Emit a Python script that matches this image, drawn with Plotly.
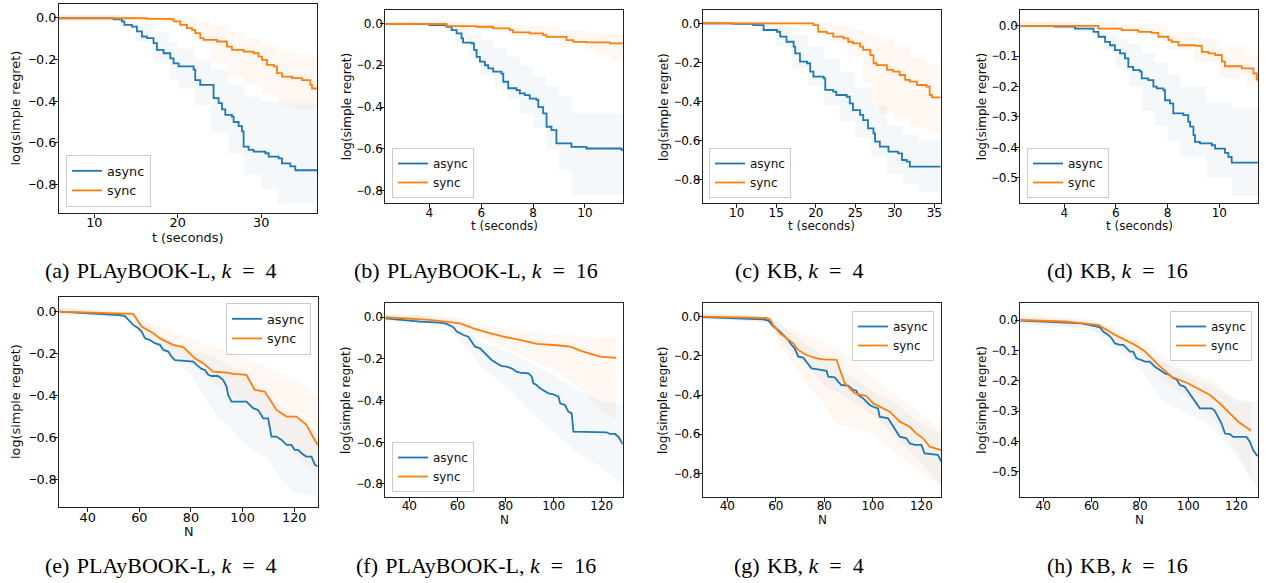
import plotly.graph_objects as go

W, H = 1266, 583

# ---------------- data ----------------
# (a) PLAyBOOK-L, k=4, time
a_async_t = [5.76, 12.3, 13.3, 13.6, 14.5, 15.1, 15.7, 16.3, 17.1, 17.5, 18.3, 19.1, 19.5, 20.1, 20.9, 21.9, 22.1, 22.7, 24.1, 24.3, 24.9, 25.3, 25.7, 26.5, 26.7, 27.3, 27.7, 27.9, 28.5, 29.1, 30.5, 30.9, 32.1, 32.5, 33.5, 34.1, 36.7]
a_async_v = [-0.005, -0.01, -0.02, -0.037, -0.045, -0.068, -0.092, -0.10, -0.124, -0.156, -0.172, -0.196, -0.22, -0.235, -0.235, -0.25, -0.30, -0.323, -0.323, -0.386, -0.41, -0.44, -0.466, -0.474, -0.50, -0.52, -0.545, -0.617, -0.633, -0.641, -0.649, -0.665, -0.673, -0.697, -0.712, -0.73, -0.73]
a_sync_t = [5.76, 16.3, 19.3, 19.5, 20.3, 21.1, 21.7, 22.1, 22.7, 23.1, 24.7, 25.9, 26.5, 27.9, 29.1, 29.7, 30.1, 30.7, 31.5, 31.9, 32.5, 33.7, 34.9, 35.9, 36.1, 36.7]
a_sync_v = [-0.005, -0.008, -0.01, -0.02, -0.037, -0.052, -0.06, -0.076, -0.10, -0.108, -0.116, -0.14, -0.156, -0.164, -0.172, -0.188, -0.204, -0.227, -0.235, -0.267, -0.283, -0.291, -0.30, -0.323, -0.34, -0.34]
a_async_band_t = [5.76, 13, 15, 17, 19, 20, 22, 24, 26, 28, 30, 32, 36.7]
a_async_hi = [0.01, 0.0, -0.03, -0.07, -0.12, -0.15, -0.2, -0.25, -0.32, -0.38, -0.40, -0.41, -0.42]
a_async_lo = [-0.01, -0.03, -0.12, -0.22, -0.30, -0.34, -0.42, -0.55, -0.65, -0.75, -0.82, -0.89, -0.89]
a_sync_band_t = [5.76, 16, 20, 22, 24, 26, 28, 30, 32, 34, 36.7]
a_sync_hi = [0.01, 0.005, 0.0, -0.02, -0.04, -0.07, -0.10, -0.13, -0.16, -0.18, -0.21]
a_sync_lo = [-0.01, -0.02, -0.05, -0.12, -0.22, -0.28, -0.32, -0.37, -0.42, -0.44, -0.46]

# (b) PLAyBOOK-L, k=16, time
b_async_t = [2.3, 4.0, 4.66, 4.86, 5.05, 5.24, 5.3, 5.63, 5.72, 5.82, 5.95, 6.14, 6.27, 6.46, 6.78, 6.85, 7.04, 7.36, 7.49, 7.68, 7.87, 8.13, 8.2, 8.39, 8.52, 8.71, 8.9, 9.35, 9.48, 10.06, 11.09, 11.41, 11.48]
b_async_v = [-0.003, -0.008, -0.016, -0.032, -0.048, -0.072, -0.092, -0.096, -0.127, -0.16, -0.183, -0.20, -0.215, -0.231, -0.24, -0.279, -0.31, -0.319, -0.335, -0.343, -0.36, -0.366, -0.40, -0.43, -0.494, -0.51, -0.574, -0.574, -0.59, -0.598, -0.598, -0.605, -0.61]
b_sync_t = [2.3, 4.66, 5.82, 6.46, 7.1, 7.23, 7.87, 8.39, 8.52, 9.29, 9.55, 10.06, 10.57, 10.96, 11.48]
b_sync_v = [-0.003, -0.013, -0.016, -0.024, -0.032, -0.043, -0.048, -0.056, -0.064, -0.08, -0.088, -0.091, -0.091, -0.096, -0.099]
b_async_band_t = [2.3, 4.5, 5, 5.5, 6, 6.5, 7, 7.5, 8, 8.5, 9, 9.5, 11.48]
b_async_hi = [0.01, 0.0, -0.02, -0.05, -0.08, -0.12, -0.16, -0.2, -0.25, -0.3, -0.35, -0.43, -0.44]
b_async_lo = [-0.01, -0.03, -0.09, -0.17, -0.25, -0.30, -0.36, -0.43, -0.50, -0.60, -0.70, -0.82, -0.82]
b_sync_band_t = [2.3, 5, 7, 9, 10, 10.5, 11, 11.48]
b_sync_hi = [0.01, 0.005, -0.01, -0.03, -0.04, -0.05, -0.05, -0.06]
b_sync_lo = [-0.01, -0.03, -0.06, -0.10, -0.13, -0.15, -0.18, -0.20]

# (c) KB, k=4, time
c_async_t = [5.7, 9.6, 12.1, 13.4, 15.1, 15.5, 16.3, 17.2, 17.4, 18.0, 18.9, 19.3, 19.7, 21.0, 21.2, 22.2, 22.6, 23.9, 24.3, 24.7, 25.6, 26.0, 26.6, 27.3, 27.5, 28.1, 29.0, 29.2, 30.4, 30.9, 31.5, 31.9, 33.2, 35.8]
c_async_v = [0.0, -0.003, -0.009, -0.034, -0.043, -0.068, -0.094, -0.119, -0.153, -0.196, -0.204, -0.247, -0.272, -0.281, -0.34, -0.349, -0.366, -0.375, -0.409, -0.443, -0.468, -0.494, -0.536, -0.562, -0.604, -0.63, -0.63, -0.655, -0.664, -0.698, -0.706, -0.732, -0.732, -0.732]
c_sync_t = [5.7, 19.7, 20.3, 21.4, 22.2, 23.5, 24.1, 24.7, 25.6, 26.0, 26.9, 27.3, 27.7, 29.0, 29.8, 30.6, 31.3, 31.9, 32.8, 34.0, 34.4, 34.7, 35.8]
c_sync_v = [0.0, -0.009, -0.043, -0.051, -0.068, -0.077, -0.094, -0.102, -0.119, -0.136, -0.162, -0.204, -0.213, -0.238, -0.247, -0.264, -0.289, -0.298, -0.315, -0.323, -0.366, -0.378, -0.378]
c_async_band_t = [5.7, 13, 15, 17, 19, 21, 23, 25, 27, 29, 31, 33, 35.8]
c_async_hi = [0.01, 0.0, -0.02, -0.06, -0.12, -0.18, -0.25, -0.33, -0.42, -0.52, -0.57, -0.6, -0.6]
c_async_lo = [-0.01, -0.03, -0.12, -0.23, -0.32, -0.42, -0.50, -0.58, -0.68, -0.77, -0.82, -0.86, -0.87]
c_sync_band_t = [5.7, 20, 22, 24, 26, 27, 28, 30, 32, 34, 35.8]
c_sync_hi = [0.01, 0.005, -0.01, -0.03, -0.05, -0.06, -0.08, -0.12, -0.18, -0.21, -0.22]
c_sync_lo = [-0.01, -0.03, -0.10, -0.17, -0.30, -0.42, -0.46, -0.5, -0.53, -0.56, -0.58]

# (d) KB, k=16, time
d_async_t = [2.3, 3.64, 4.42, 5.13, 5.32, 5.58, 5.77, 5.96, 6.16, 6.35, 6.48, 6.67, 6.93, 7.0, 7.25, 7.45, 7.58, 7.84, 7.9, 8.09, 8.22, 8.61, 8.8, 8.87, 9.0, 9.06, 9.25, 9.71, 9.84, 10.22, 10.35, 10.48, 11.51]
d_async_v = [0.0, -0.003, -0.009, -0.02, -0.036, -0.053, -0.064, -0.08, -0.091, -0.107, -0.135, -0.146, -0.151, -0.173, -0.179, -0.20, -0.206, -0.212, -0.245, -0.255, -0.288, -0.294, -0.316, -0.332, -0.36, -0.382, -0.387, -0.393, -0.404, -0.418, -0.431, -0.45, -0.45]
d_sync_t = [2.3, 5.32, 6.22, 6.87, 7.38, 7.64, 8.03, 8.16, 8.42, 9.06, 9.32, 9.58, 9.84, 10.1, 10.22, 10.87, 11.19, 11.32, 11.45, 11.51]
d_sync_v = [0.0, -0.009, -0.014, -0.02, -0.023, -0.036, -0.047, -0.053, -0.064, -0.066, -0.086, -0.091, -0.096, -0.118, -0.133, -0.14, -0.14, -0.157, -0.177, -0.179]
d_async_band_t = [2.3, 4.5, 5.5, 6, 6.5, 7, 7.5, 8, 8.5, 9.5, 10.5, 11.51]
d_async_hi = [0.01, 0.0, -0.02, -0.04, -0.06, -0.09, -0.12, -0.16, -0.2, -0.25, -0.27, -0.27]
d_async_lo = [-0.01, -0.02, -0.08, -0.14, -0.2, -0.28, -0.33, -0.38, -0.43, -0.5, -0.56, -0.56]
d_sync_band_t = [2.3, 6, 8, 9, 10, 11, 11.51]
d_sync_hi = [0.015, 0.005, -0.02, -0.04, -0.07, -0.10, -0.12]
d_sync_lo = [-0.01, -0.02, -0.08, -0.12, -0.17, -0.20, -0.23]

# (e) PLAyBOOK-L, k=4, N
e_async_n = [29, 52.5, 54.4, 55.7, 57.6, 59.6, 60.9, 62.2, 64.1, 66, 68, 69.3, 71.2, 72.5, 73.8, 76.4, 80.9, 82.2, 84.1, 85.4, 86.7, 88, 90.5, 92.5, 93.8, 94.4, 95.7, 97, 101.5, 102.8, 104.1, 106, 108, 109.9, 111.2, 113.1, 115.1, 117, 118.9, 120.2, 121.5, 122.8, 124.7, 126.7, 128, 129.1]
e_async_v = [0.0, -0.016, -0.021, -0.04, -0.063, -0.079, -0.095, -0.127, -0.135, -0.15, -0.158, -0.182, -0.19, -0.214, -0.23, -0.233, -0.238, -0.253, -0.272, -0.277, -0.30, -0.306, -0.306, -0.325, -0.356, -0.396, -0.428, -0.428, -0.428, -0.443, -0.459, -0.467, -0.507, -0.507, -0.594, -0.594, -0.61, -0.633, -0.633, -0.657, -0.657, -0.673, -0.689, -0.689, -0.728, -0.735]
e_sync_n = [29, 56.4, 57.6, 60.9, 65.4, 68, 73.1, 77, 81.5, 84.7, 88.6, 93.8, 96.4, 101.5, 104.7, 108.6, 113.1, 117, 120.9, 124.7, 128, 129.1]
e_sync_v = [0.0, -0.011, -0.011, -0.071, -0.103, -0.127, -0.158, -0.169, -0.222, -0.245, -0.285, -0.29, -0.296, -0.301, -0.372, -0.38, -0.467, -0.499, -0.499, -0.538, -0.61, -0.635]
e_async_band_n = [29, 55, 60, 70, 75, 80, 85, 90, 95, 100, 110, 115, 120, 129.1]
e_async_hi = [0.02, 0.0, -0.05, -0.13, -0.16, -0.19, -0.2, -0.22, -0.26, -0.3, -0.4, -0.45, -0.5, -0.58]
e_async_lo = [-0.01, -0.03, -0.1, -0.19, -0.25, -0.30, -0.40, -0.50, -0.55, -0.62, -0.70, -0.80, -0.86, -0.88]
e_sync_band_n = [29, 57, 60, 70, 80, 90, 100, 110, 120, 129.1]
e_sync_hi = [0.02, 0.0, -0.03, -0.08, -0.13, -0.17, -0.22, -0.27, -0.32, -0.40]
e_sync_lo = [-0.01, -0.03, -0.1, -0.18, -0.25, -0.35, -0.42, -0.55, -0.68, -0.78]

# (f) PLAyBOOK-L, k=16, N
f_async_n = [30, 36.1, 44.4, 52.8, 55.5, 58.3, 59.7, 62.5, 64.5, 65.9, 67.3, 69.4, 70.8, 72.2, 74.2, 76.3, 78.4, 80.5, 82.5, 84.6, 86, 89.5, 90.9, 91.6, 92.9, 94.3, 95.7, 97.8, 99.9, 102, 102.7, 104.7, 106.1, 107.5, 108.2, 111, 113.7, 122, 123.4, 125.5, 126.9, 127.6, 128.7]
f_async_v = [-0.005, -0.013, -0.021, -0.026, -0.032, -0.048, -0.069, -0.085, -0.093, -0.117, -0.141, -0.149, -0.165, -0.186, -0.205, -0.221, -0.234, -0.237, -0.245, -0.261, -0.266, -0.269, -0.285, -0.317, -0.325, -0.341, -0.349, -0.365, -0.37, -0.381, -0.413, -0.421, -0.453, -0.461, -0.549, -0.549, -0.552, -0.552, -0.56, -0.56, -0.573, -0.589, -0.608]
f_sync_n = [30, 48.6, 61, 66.6, 72.2, 79.1, 86, 93, 99.9, 106.8, 112.3, 119.3, 126]
f_sync_v = [0.0, -0.013, -0.029, -0.053, -0.072, -0.093, -0.109, -0.128, -0.133, -0.141, -0.165, -0.189, -0.195]
f_async_band_n = [30, 55, 60, 65, 70, 80, 90, 100, 110, 120, 128.7]
f_async_hi = [0.015, 0.0, -0.03, -0.07, -0.12, -0.16, -0.22, -0.28, -0.35, -0.40, -0.42]
f_async_lo = [-0.02, -0.04, -0.10, -0.16, -0.24, -0.33, -0.45, -0.55, -0.65, -0.72, -0.80]
f_sync_band_n = [30, 60, 70, 80, 90, 100, 110, 120, 126]
f_sync_hi = [0.02, 0.0, -0.03, -0.06, -0.07, -0.08, -0.09, -0.10, -0.10]
f_sync_lo = [-0.01, -0.04, -0.10, -0.15, -0.20, -0.25, -0.33, -0.45, -0.49]

# (g) KB, k=4, N
g_async_n = [29.85, 45.2, 54.8, 56.9, 58.9, 61.7, 63.7, 65.1, 66.5, 67.8, 69.2, 71.3, 72.6, 74.7, 76.1, 78.1, 80.9, 81.6, 84.3, 85.7, 87, 89.8, 91.9, 93.2, 93.9, 96, 97.3, 98.7, 100.1, 102.1, 102.8, 106.3, 107.6, 109, 111.1, 113.8, 115.2, 117.2, 120, 121.3, 124.8, 126.8, 128.2]
g_async_v = [-0.003, -0.009, -0.014, -0.02, -0.048, -0.077, -0.102, -0.119, -0.145, -0.162, -0.204, -0.209, -0.23, -0.264, -0.267, -0.272, -0.277, -0.306, -0.31, -0.332, -0.349, -0.352, -0.374, -0.378, -0.40, -0.417, -0.434, -0.451, -0.46, -0.468, -0.511, -0.519, -0.545, -0.57, -0.613, -0.621, -0.647, -0.655, -0.655, -0.698, -0.701, -0.706, -0.74]
g_sync_n = [29.85, 56.2, 57.6, 58.9, 61.7, 64.4, 67.2, 69.2, 72.6, 76.8, 79.5, 85.0, 88.4, 90.5, 92.5, 95.3, 97.3, 100.1, 104.2, 107, 111.1, 115.2, 117.9, 120.7, 123.4, 125.5, 128.2]
g_sync_v = [0.0, -0.007, -0.014, -0.043, -0.085, -0.111, -0.136, -0.17, -0.196, -0.213, -0.218, -0.221, -0.34, -0.366, -0.391, -0.40, -0.405, -0.443, -0.468, -0.485, -0.536, -0.562, -0.596, -0.621, -0.664, -0.672, -0.681]
g_async_band_n = [29.85, 57, 60, 65, 70, 75, 80, 90, 100, 110, 120, 128.2]
g_async_hi = [0.02, 0.0, -0.02, -0.07, -0.12, -0.16, -0.2, -0.3, -0.38, -0.45, -0.55, -0.60]
g_async_lo = [-0.01, -0.03, -0.09, -0.16, -0.22, -0.28, -0.35, -0.42, -0.5, -0.62, -0.75, -0.87]
g_sync_band_n = [29.85, 57, 60, 65, 70, 75, 80, 85, 90, 100, 110, 120, 128.2]
g_sync_hi = [0.02, 0.0, -0.03, -0.06, -0.08, -0.1, -0.13, -0.16, -0.2, -0.32, -0.4, -0.5, -0.58]
g_sync_lo = [-0.01, -0.03, -0.12, -0.2, -0.3, -0.38, -0.45, -0.55, -0.56, -0.6, -0.7, -0.8, -0.86]

# (h) KB, k=16, N
h_async_n = [30.5, 44.8, 55.9, 61.4, 63.4, 64.8, 66.9, 68.3, 69.7, 71.7, 73.1, 74.5, 75.9, 77.2, 78.6, 80.7, 82.1, 84.1, 86.2, 88.3, 90.3, 92.4, 93.8, 95.2, 96.6, 98.6, 100, 101.4, 103.4, 104.8, 106.9, 109.7, 111, 112.4, 113.8, 115.2, 117.2, 118.6, 122.1, 124.1, 125.5, 126.9, 128.3, 129]
h_async_v = [-0.002, -0.008, -0.011, -0.02, -0.024, -0.038, -0.049, -0.06, -0.077, -0.082, -0.082, -0.093, -0.104, -0.104, -0.126, -0.132, -0.137, -0.137, -0.154, -0.165, -0.176, -0.181, -0.192, -0.196, -0.214, -0.22, -0.236, -0.253, -0.275, -0.291, -0.291, -0.291, -0.299, -0.319, -0.341, -0.374, -0.376, -0.385, -0.385, -0.385, -0.401, -0.429, -0.445, -0.448]
h_sync_n = [30.5, 49, 58.6, 62.8, 69.7, 77.9, 82.1, 87.6, 93.1, 100, 109, 113.8, 120.7, 126]
h_sync_v = [0.0, -0.005, -0.013, -0.016, -0.049, -0.082, -0.104, -0.148, -0.187, -0.209, -0.247, -0.28, -0.335, -0.365]
h_async_band_n = [30.5, 60, 65, 70, 80, 85, 90, 100, 110, 120, 129]
h_async_hi = [0.01, 0.0, -0.03, -0.05, -0.1, -0.12, -0.14, -0.18, -0.22, -0.26, -0.27]
h_async_lo = [-0.015, -0.03, -0.07, -0.1, -0.15, -0.22, -0.27, -0.31, -0.35, -0.45, -0.56]
h_sync_band_n = [30.5, 60, 70, 80, 90, 100, 110, 120, 126]
h_sync_hi = [0.02, 0.0, -0.03, -0.06, -0.12, -0.17, -0.2, -0.27, -0.27]
h_sync_lo = [-0.01, -0.03, -0.07, -0.11, -0.2, -0.26, -0.32, -0.43, -0.52]

# captions: label, dataset, k
cap_labels = ["(a)", "(b)", "(c)", "(d)", "(e)", "(f)", "(g)", "(h)"]
cap_names = ["PLAyBOOK-L", "PLAyBOOK-L", "KB", "KB", "PLAyBOOK-L", "PLAyBOOK-L", "KB", "KB"]
cap_k = [4, 16, 4, 16, 4, 16, 4, 16]
series_names = ["async", "sync"]
time_ticks = [[10, 20, 30], [4, 6, 8, 10], [10, 15, 20, 25, 30, 35], [4, 6, 8, 10]]
n_ticks = [40, 60, 80, 100, 120]
y_ticks_08 = [0.0, -0.2, -0.4, -0.6, -0.8]
y_ticks_05 = [0.0, -0.1, -0.2, -0.3, -0.4, -0.5]

# ---------------- layout geometry (reference pixels) ----------------
panels = [
    dict(box=(59, 317, 4, 213), xr=(5.76, 36.7), yr=(-0.934, 0.063), xt=time_ticks[0], yt=y_ticks_08, xlab="t (seconds)", xlab_pos=(188, 237.5), ylab_x=15, leg=("left", "bottom", 66, 207), shape="hv", fs=12.8, cap=(161, 270)),
    dict(box=(385.3, 623.3, 10, 203.3), xr=(2.30, 11.48), yr=(-0.860, 0.064), xt=time_ticks[1], yt=y_ticks_08, xlab="t (seconds)", xlab_pos=(504, 226), ylab_x=346.7, leg=("left", "bottom", 392, 198), shape="hv", fs=12, cap=(476, 270)),
    dict(box=(702.7, 940.7, 10, 203.3), xr=(5.70, 35.8), yr=(-0.919, 0.068), xt=time_ticks[2], yt=y_ticks_08, xlab="t (seconds)", xlab_pos=(821.7, 226), ylab_x=663.3, leg=("left", "bottom", 709, 198), shape="hv", fs=12, cap=(799, 270)),
    dict(box=(1020.3, 1258.3, 10, 203.3), xr=(2.30, 11.51), yr=(-0.584, 0.052), xt=time_ticks[3], yt=y_ticks_05, xlab="t (seconds)", xlab_pos=(1139, 226), ylab_x=981.7, leg=("left", "bottom", 1027, 198), shape="hv", fs=12, cap=(1117, 270)),
    dict(box=(59.3, 317.7, 296.7, 507.3), xr=(29.0, 129.1), yr=(-0.930, 0.071), xt=n_ticks, yt=y_ticks_08, xlab="N", xlab_pos=(188.5, 531.5), ylab_x=15, leg=("right", "top", 311, 303), shape="linear", fs=12.8, cap=(161, 565)),
    dict(box=(385.3, 622.7, 303.3, 496.7), xr=(30.0, 128.7), yr=(-0.861, 0.067), xt=n_ticks, yt=y_ticks_08, xlab="N", xlab_pos=(504, 519.5), ylab_x=346, leg=("left", "bottom", 392, 492), shape="linear", fs=12, cap=(476, 565)),
    dict(box=(702.7, 941.3, 303.3, 496.7), xr=(29.85, 128.2), yr=(-0.919, 0.068), xt=n_ticks, yt=y_ticks_08, xlab="N", xlab_pos=(822, 519.5), ylab_x=663, leg=("right", "top", 934, 311), shape="linear", fs=12, cap=(799, 565)),
    dict(box=(1020.3, 1258.3, 303.3, 496.7), xr=(30.5, 129.0), yr=(-0.582, 0.055), xt=n_ticks, yt=y_ticks_05, xlab="N", xlab_pos=(1139, 519.5), ylab_x=981.7, leg=("right", "top", 1252, 311), shape="linear", fs=12, cap=(1117, 565)),
]

data = [
    (a_async_t, a_async_v, a_sync_t, a_sync_v, a_async_band_t, a_async_lo, a_async_hi, a_sync_band_t, a_sync_lo, a_sync_hi),
    (b_async_t, b_async_v, b_sync_t, b_sync_v, b_async_band_t, b_async_lo, b_async_hi, b_sync_band_t, b_sync_lo, b_sync_hi),
    (c_async_t, c_async_v, c_sync_t, c_sync_v, c_async_band_t, c_async_lo, c_async_hi, c_sync_band_t, c_sync_lo, c_sync_hi),
    (d_async_t, d_async_v, d_sync_t, d_sync_v, d_async_band_t, d_async_lo, d_async_hi, d_sync_band_t, d_sync_lo, d_sync_hi),
    (e_async_n, e_async_v, e_sync_n, e_sync_v, e_async_band_n, e_async_lo, e_async_hi, e_sync_band_n, e_sync_lo, e_sync_hi),
    (f_async_n, f_async_v, f_sync_n, f_sync_v, f_async_band_n, f_async_lo, f_async_hi, f_sync_band_n, f_sync_lo, f_sync_hi),
    (g_async_n, g_async_v, g_sync_n, g_sync_v, g_async_band_n, g_async_lo, g_async_hi, g_sync_band_n, g_sync_lo, g_sync_hi),
    (h_async_n, h_async_v, h_sync_n, h_sync_v, h_async_band_n, h_async_lo, h_async_hi, h_sync_band_n, h_sync_lo, h_sync_hi),
]

BLUE = "#1f77b4"
ORANGE = "#ff7f0e"
BLUE_FILL = "rgba(31,119,180,0.05)"
ORANGE_FILL = "rgba(255,127,14,0.06)"
TICK_FONT = "DejaVu Sans, Arial, sans-serif"
CAP_FONT = "Liberation Serif, Times New Roman, serif"
MINUS = "<span style=\"font-family:'Liberation Sans'\">\u2212</span>"


def px(x):
    return x / W


def py(y):
    return 1 - y / H


def fmt(v):
    s = "%.1f" % abs(v)
    return (MINUS + s) if v < 0 else s


def caption(i):
    # wider spacing around "=" as in the LaTeX-typeset reference
    return (cap_labels[i] + "\u2004" + cap_names[i] + ", <i>k</i>\u2002=\u2002" + str(cap_k[i]))


fig = go.Figure()
layout = {}
annotations = []

for i, (p, d) in enumerate(zip(panels, data)):
    k = "" if i == 0 else str(i + 1)
    xa, ya = "x" + k, "y" + k
    leg = "legend" + k
    at, av, st, sv, abt, alo, ahi, sbt, slo, shi = d
    shape = p["shape"]
    # uncertainty bands
    for bt, lo, hi, fc in [(abt, alo, ahi, BLUE_FILL), (sbt, slo, shi, ORANGE_FILL)]:
        fig.add_trace(go.Scatter(x=bt, y=lo, mode="lines", line=dict(width=0, shape=shape),
                                 showlegend=False, hoverinfo="skip", xaxis=xa, yaxis=ya, legend=leg))
        fig.add_trace(go.Scatter(x=bt, y=hi, mode="lines", line=dict(width=0, shape=shape),
                                 fill="tonexty", fillcolor=fc, showlegend=False, hoverinfo="skip",
                                 xaxis=xa, yaxis=ya, legend=leg))
    # mean lines
    fig.add_trace(go.Scatter(x=at, y=av, mode="lines", name=series_names[0],
                             line=dict(color=BLUE, width=1.8, shape=shape), xaxis=xa, yaxis=ya, legend=leg))
    fig.add_trace(go.Scatter(x=st, y=sv, mode="lines", name=series_names[1],
                             line=dict(color=ORANGE, width=1.8, shape=shape), xaxis=xa, yaxis=ya, legend=leg))

    x0, x1, y0, y1 = p["box"]
    axis_common = dict(showline=True, mirror=True, linecolor="#222", linewidth=1, ticks="outside",
                       ticklen=4, tickwidth=1, tickcolor="#222", showgrid=False, zeroline=False,
                       tickfont=dict(family=TICK_FONT, size=p["fs"], color="#000"))
    layout["xaxis" + k] = dict(domain=[px(x0), px(x1)], range=list(p["xr"]), anchor=ya,
                               tickmode="array", tickvals=p["xt"], ticktext=[str(v) for v in p["xt"]],
                               ticklabelstandoff=-6, **axis_common)
    layout["yaxis" + k] = dict(domain=[py(y1), py(y0)], range=list(p["yr"]), anchor=xa,
                               tickmode="array", tickvals=p["yt"], ticktext=[fmt(v) for v in p["yt"]],
                               ticklabelstandoff=-5, **axis_common)
    xa_anchor, ya_anchor, lx, ly = p["leg"]
    layout[leg] = dict(x=px(lx), y=py(ly), xanchor=xa_anchor, yanchor=ya_anchor, xref="paper", yref="paper",
                       bgcolor="rgba(255,255,255,0.85)", bordercolor="#cccccc", borderwidth=1,
                       font=dict(family=TICK_FONT, size=p["fs"], color="#111"), itemwidth=30,
                       traceorder="normal", tracegroupgap=0)
    # axis titles
    annotations.append(dict(x=px(p["xlab_pos"][0]), y=py(p["xlab_pos"][1]), xref="paper", yref="paper",
                            text=p["xlab"], showarrow=False, xanchor="center", yanchor="middle",
                            font=dict(family=TICK_FONT, size=p["fs"], color="#111")))
    annotations.append(dict(x=px(p["ylab_x"]), y=py((y0 + y1) / 2), xref="paper", yref="paper",
                            text="log(simple regret)", showarrow=False, textangle=-90,
                            xanchor="center", yanchor="middle",
                            font=dict(family=TICK_FONT, size=p["fs"], color="#111")))
    annotations.append(dict(x=px(p["cap"][0]), y=py(p["cap"][1]), xref="paper", yref="paper",
                            text=caption(i), showarrow=False, xanchor="center", yanchor="middle",
                            font=dict(family=CAP_FONT, size=22, color="#000")))

fig.update_layout(width=W, height=H, margin=dict(l=0, r=0, t=0, b=0), paper_bgcolor="white",
                  plot_bgcolor="white", annotations=annotations, **layout)
# remove the browser's default 8 px page margin so the figure sits at the window origin
fig.write_html("out.html", config={"displayModeBar": False},
               post_script="document.body.style.margin='0';")
